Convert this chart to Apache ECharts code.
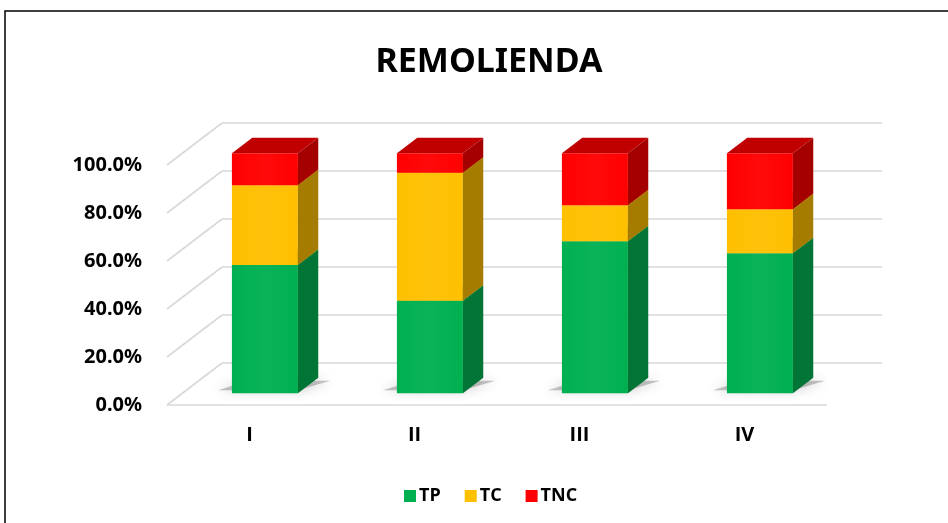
<!DOCTYPE html>
<html>
<head>
<meta charset="utf-8">
<script src="https://cdn.jsdelivr.net/npm/echarts@6/dist/echarts.min.js"></script>
<style>
    html, body { margin: 0; padding: 0; background: #fff; }
    #chart { width: 948px; height: 523px; }
</style>
</head>
<body>
<div id="chart"></div>
<script>
// datos de la grafica
var categories = ['I', 'II', 'III', 'IV'];
var seriesNames = ['TP', 'TC', 'TNC'];
var tpValues = [0.534, 0.385, 0.633, 0.583];
var tcValues = [0.333, 0.534, 0.150, 0.184];
var tncValues = [0.133, 0.081, 0.217, 0.233];
var yTicks = [0, 0.2, 0.4, 0.6, 0.8, 1.0];

// colores: frente, lado, tapa
var faceColors = {
    TP: ['#00B050', '#007535', '#00A048'],
    TC: ['#FFC000', '#A67C00', '#D9A300'],
    TNC: ['#FF0000', '#A50000', '#C00000']
};

// profundidad del "3D"
var DX = 55, DY = -42;
var F1 = 0.28, F2 = 0.65;

var chart = echarts.init(document.getElementById('chart'));

function buildSegments(values, below) {
    return values.map(function (v, i) {
        var base = 0;
        below.forEach(function (arr) { base += arr[i]; });
        return [i, base, base + v];
    });
}

var segData = {
    TP: buildSegments(tpValues, []),
    TC: buildSegments(tcValues, [tpValues]),
    TNC: buildSegments(tncValues, [tpValues, tcValues])
};

function barRender(name) {
    return function (params, api) {
        var idx = api.value(0);
        var p0 = api.coord([idx, api.value(1)]);
        var p1 = api.coord([idx, api.value(2)]);
        var w = api.size([1, 0])[0] * 0.4;
        var fx = p0[0] + F1 * DX - w / 2;
        var y0 = p0[1] + F1 * DY;
        var y1 = p1[1] + F1 * DY;
        var sx = (F2 - F1) * DX, sy = (F2 - F1) * DY;
        var c = faceColors[name];
        var children = [];
        if (name === 'TP') {
            // sombra en el piso
            children.push({
                type: 'polygon',
                shape: { points: [[fx - 14, y0 - 3], [fx + w, y0 - 3], [fx + w + sx + 12, y0 + sy + 3], [fx + sx - 4, y0 + sy + 3]] },
                style: { fill: 'rgba(90,90,90,0.35)', shadowBlur: 12, shadowColor: 'rgba(60,60,60,0.9)' }
            });
        }
        children.push({
            type: 'rect',
            shape: { x: fx, y: y1, width: w, height: y0 - y1 },
            style: {
                fill: new echarts.graphic.LinearGradient(0, 0, 1, 0, [
                    { offset: 0, color: c[0] },
                    { offset: 0.5, color: echarts.color.lift(c[0], 0.04) },
                    { offset: 1, color: c[0] }
                ])
            }
        });
        children.push({
            type: 'polygon',
            shape: { points: [[fx + w, y0], [fx + w + sx, y0 + sy], [fx + w + sx, y1 + sy], [fx + w, y1]] },
            style: { fill: c[1] }
        });
        children.push({
            type: 'polygon',
            shape: { points: [[fx, y1], [fx + w, y1], [fx + w + sx, y1 + sy], [fx + sx, y1 + sy]] },
            style: { fill: c[2] }
        });
        return { type: 'group', children: children };
    };
}

function gridRender(params, api) {
    var cs = params.coordSys;
    var p = api.coord([0, api.value(0)]);
    var y = p[1];
    var left = cs.x, right = cs.x + cs.width;
    var lineStyle = { stroke: '#D9D9D9', lineWidth: 1.6 };
    var children = [
        { type: 'line', shape: { x1: left, y1: y, x2: left + DX, y2: y + DY }, style: lineStyle },
        { type: 'line', shape: { x1: left + DX, y1: y + DY, x2: right + DX, y2: y + DY }, style: lineStyle }
    ];
    if (api.value(0) === 0) {
        children.push({ type: 'line', shape: { x1: left, y1: y, x2: right, y2: y }, style: lineStyle });
    }
    return { type: 'group', children: children };
}

var series = [{
    type: 'custom',
    name: 'grid',
    silent: true,
    z: 1,
    renderItem: gridRender,
    data: yTicks.map(function (t) { return [t]; }),
    encode: { y: 0 }
}];

seriesNames.forEach(function (name, k) {
    series.push({
        type: 'custom',
        name: name,
        z: 2 + k,
        itemStyle: { color: faceColors[name][0] },
        renderItem: barRender(name),
        data: segData[name],
        encode: { x: 0, y: [1, 2] }
    });
});

var option = {
    backgroundColor: '#fff',
    animation: false,
    title: {
        text: 'REMOLIENDA',
        left: 484,
        textAlign: 'center',
        top: 40,
        textStyle: { fontFamily: 'Noto Sans', fontWeight: 'bold', fontSize: 34, color: '#000' }
    },
    legend: {
        data: seriesNames,
        top: 482,
        left: 399,
        icon: 'rect',
        itemWidth: 12,
        itemHeight: 12,
        itemGap: 24,
        textStyle: { fontFamily: 'Open Sans', fontWeight: 'bold', fontSize: 18, color: '#000', padding: [0, 0, 0, -2] }
    },
    grid: { left: 167, width: 660, top: 165, height: 240 },
    xAxis: {
        type: 'category',
        data: categories,
        axisLine: { show: false },
        axisTick: { show: false },
        axisLabel: { fontFamily: 'Open Sans', fontWeight: 'bold', fontSize: 20, color: '#000', margin: 20 }
    },
    yAxis: {
        type: 'value',
        min: 0,
        max: 1,
        interval: 0.2,
        axisLine: { show: false },
        axisTick: { show: false },
        splitLine: { show: false },
        axisLabel: {
            fontFamily: 'Noto Sans', fontWeight: 'bold', fontSize: 20, color: '#000', margin: 25,
            formatter: function (v) { return (v * 100).toFixed(1) + '%'; }
        }
    },
    graphic: [{
        type: 'rect',
        shape: { x: 5, y: 11, width: 960, height: 540 },
        style: { fill: 'none', stroke: '#000', lineWidth: 1.5 },
        silent: true
    }],
    series: series
};

chart.setOption(option);
</script>
</body>
</html>
